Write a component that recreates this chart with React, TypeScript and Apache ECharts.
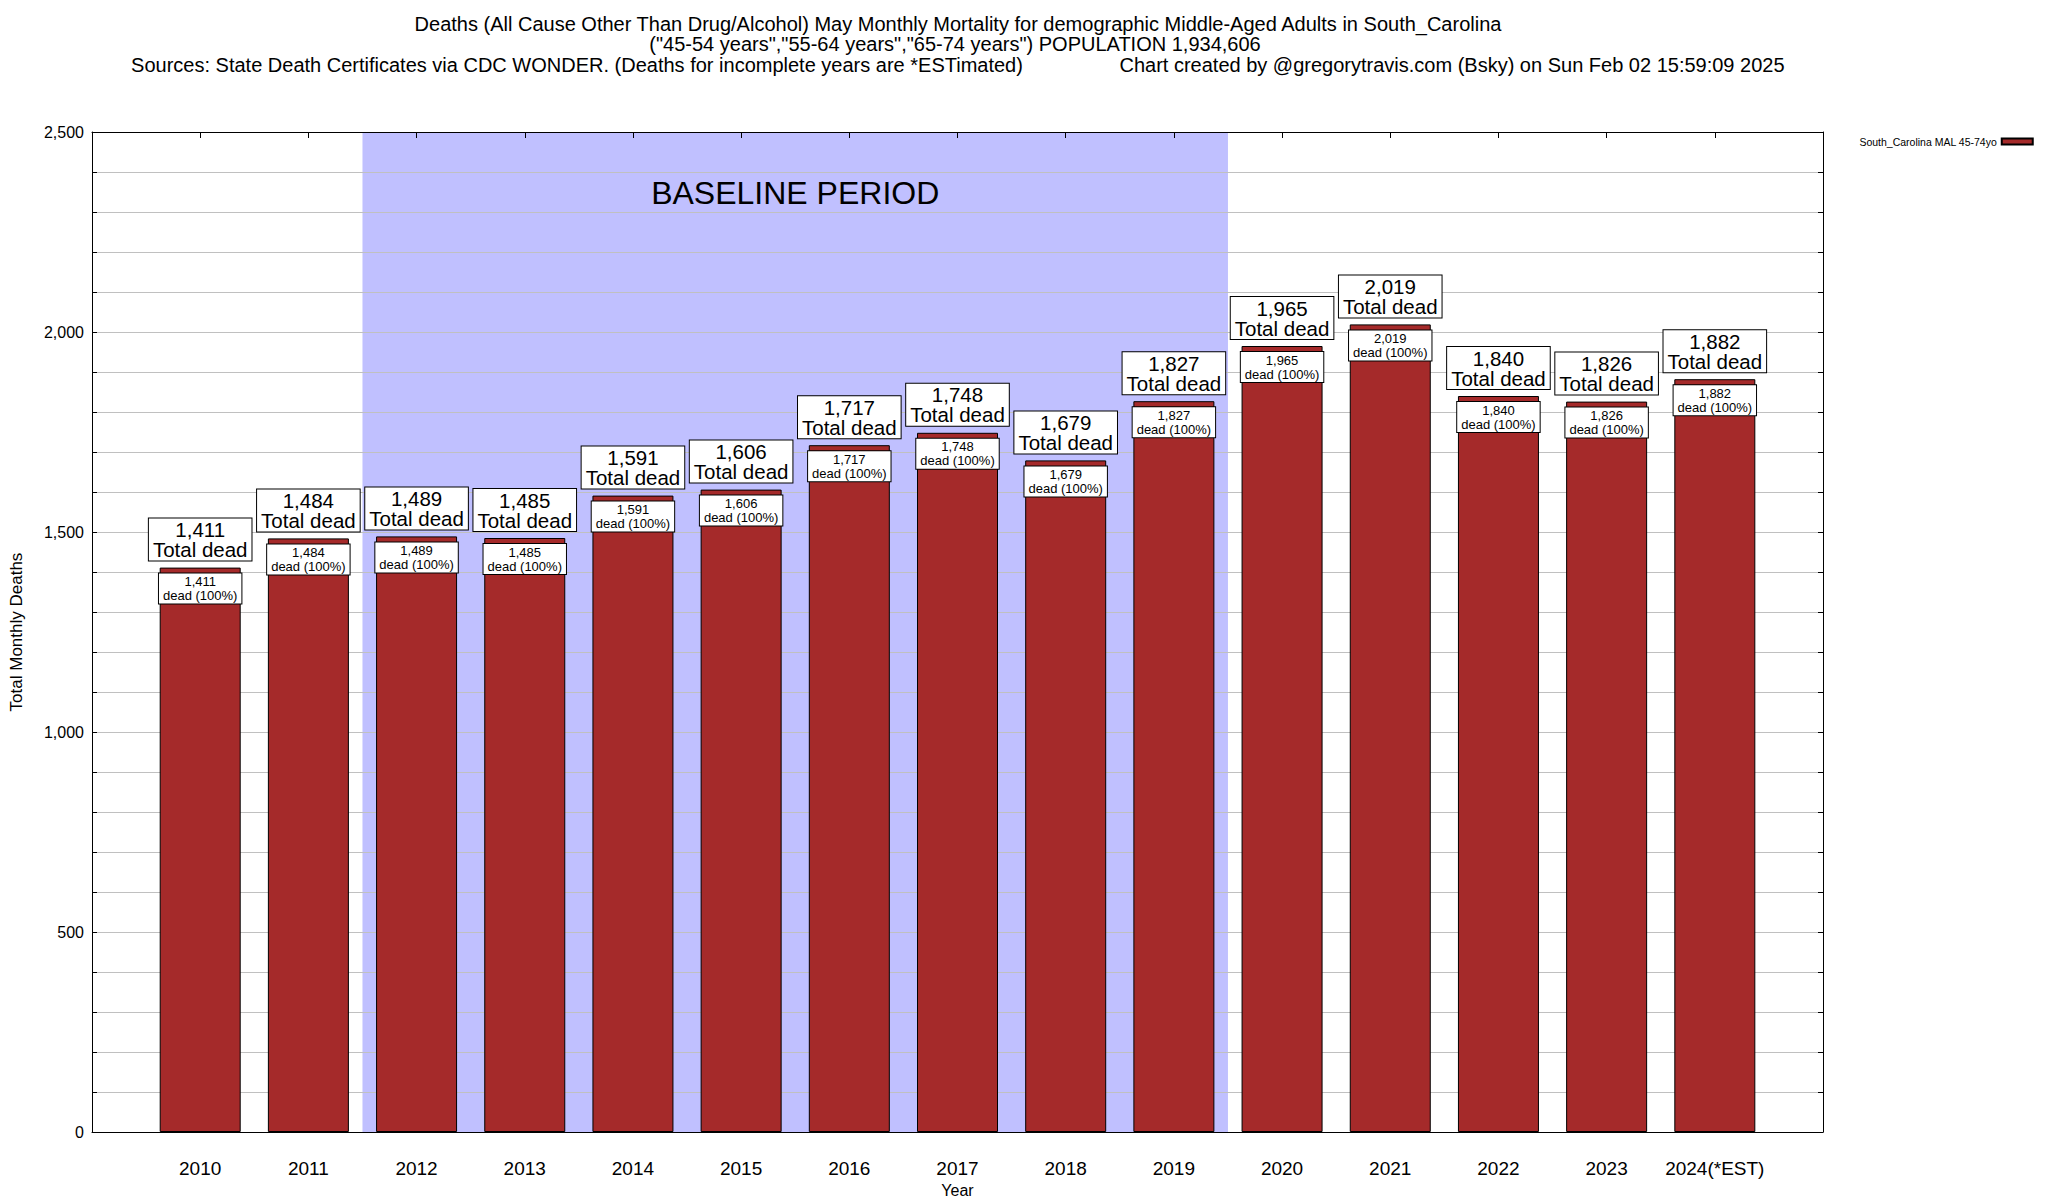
import React, { useEffect, useRef } from 'react';
import * as echarts from 'echarts';

const years = [2010, 2011, 2012, 2013, 2014, 2015, 2016, 2017, 2018, 2019, 2020, 2021, 2022, 2023, 2024];
const yearLabels = ['2010', '2011', '2012', '2013', '2014', '2015', '2016', '2017', '2018', '2019', '2020', '2021', '2022', '2023', '2024(*EST)'];
const deaths = [1411, 1484, 1489, 1485, 1591, 1606, 1717, 1748, 1679, 1827, 1965, 2019, 1840, 1826, 1882];
const seriesName = 'South_Carolina MAL 45-74yo';
const titleLine1 = 'Deaths (All Cause Other Than Drug/Alcohol) May Monthly Mortality for demographic Middle-Aged Adults in South_Carolina';
const titleLine2 = '("45-54 years","55-64 years","65-74 years") POPULATION 1,934,606';
const titleLine3a = 'Sources: State Death Certificates via CDC WONDER. (Deaths for incomplete years are *ESTimated)';
const titleLine3b = 'Chart created by @gregorytravis.com (Bsky) on Sun Feb 02 15:59:09 2025';
const baselineRange = [2011.5, 2019.5];
const baselineText = 'BASELINE PERIOD';
const xRange = [2009, 2025];
const yRange = [0, 2500];

const FONT = '"Liberation Sans", Arial, Helvetica, sans-serif';
const fmt = (v: number) => v.toLocaleString('en-US');

export default function App() {
  const ref = useRef<HTMLDivElement>(null);
  useEffect(() => {
    if (!ref.current) return;
    const chart = echarts.init(ref.current, undefined, { renderer: 'svg' });
    const data = years.map((y, i) => [y, deaths[i]]);
    const labelFor = (v: number) => {
      const i = years.indexOf(Math.round(v));
      return i >= 0 && Math.abs(v - years[i]) < 1e-6 ? yearLabels[i] : '';
    };
    const titleText = (text: string, x: number, y: number) => ({
      type: 'text',
      x,
      y,
      silent: true,
      style: {
        text,
        fontSize: 20,
        fontFamily: FONT,
        fill: '#000',
        textAlign: 'center',
        textVerticalAlign: 'middle',
        align: 'center',
        verticalAlign: 'middle',
      },
    });
    const option: any = {
      animation: false,
      backgroundColor: '#fff',
      textStyle: { fontFamily: FONT, color: '#000' },
      graphic: [
        titleText(titleLine1, 958, 24),
        titleText(titleLine2, 955, 44),
        titleText(titleLine3a, 577, 65),
        titleText(titleLine3b, 1452, 65),
      ],
      legend: {
        data: [seriesName],
        left: 1854,
        top: 131,
        align: 'right',
        icon: 'rect',
        itemWidth: 31,
        itemHeight: 6,
        itemGap: 4,
        textStyle: { fontSize: 10.5, color: '#000', fontFamily: FONT },
        selectedMode: false,
      },
      grid: { left: 92, right: 225, top: 132, bottom: 68, containLabel: false, outerBoundsMode: 'none' },
      xAxis: [
        {
          type: 'value',
          min: xRange[0],
          max: xRange[1],
          interval: 1,
          position: 'bottom',
          z: 3,
          name: 'Year',
          nameLocation: 'middle',
          nameGap: 49,
          nameTextStyle: { fontSize: 16, color: '#000', fontFamily: FONT },
          axisLine: { show: true, onZero: false, lineStyle: { color: '#000', width: 1 } },
          axisTick: { show: false },
          splitLine: { show: false },
          axisLabel: {
            margin: 27,
            fontSize: 19,
            color: '#000',
            fontFamily: FONT,
            formatter: (v: number) => labelFor(v),
          },
        },
        {
          type: 'value',
          min: xRange[0],
          max: xRange[1],
          interval: 1,
          position: 'top',
          z: 3,
          axisLine: { show: true, onZero: false, lineStyle: { color: '#000', width: 1 } },
          axisTick: { show: true, inside: true, length: 6, lineStyle: { color: '#000' } },
          splitLine: { show: false },
          axisLabel: { show: false },
        },
      ],
      yAxis: [
        {
          type: 'value',
          min: yRange[0],
          max: yRange[1],
          interval: 100,
          z: 1.5,
          name: 'Total Monthly Deaths',
          nameLocation: 'middle',
          nameRotate: 90,
          nameGap: 67,
          nameTextStyle: { fontSize: 17, color: '#000', fontFamily: FONT },
          axisLine: { show: true, lineStyle: { color: '#000', width: 1 } },
          axisTick: { show: true, inside: true, length: 5, lineStyle: { color: '#000' } },
          splitLine: { show: true, lineStyle: { color: '#c0c0c0', width: 1 } },
          axisLabel: {
            margin: 8,
            fontSize: 16,
            color: '#000',
            fontFamily: FONT,
            formatter: (v: number) => (v % 500 === 0 ? fmt(v) : ''),
          },
        },
        {
          type: 'value',
          min: yRange[0],
          max: yRange[1],
          interval: 100,
          position: 'right',
          z: 3,
          axisLine: { show: true, lineStyle: { color: '#000', width: 1 } },
          axisTick: { show: true, inside: true, length: 5, lineStyle: { color: '#000' } },
          splitLine: { show: false },
          axisLabel: { show: false },
        },
      ],
      series: [
        {
          name: 'baseline',
          type: 'line',
          data: [],
          z: 1,
          silent: true,
          markArea: {
            silent: true,
            itemStyle: { color: '#c0c0ff' },
            label: {
              show: true,
              position: 'insideTop',
              distance: 45,
              fontSize: 32,
              color: '#000',
              fontFamily: FONT,
            },
            data: [[{ xAxis: baselineRange[0], name: baselineText }, { xAxis: baselineRange[1] }]],
          },
        },
        {
          name: seriesName,
          type: 'bar',
          data,
          z: 2,
          barWidth: 81,
          silent: true,
          itemStyle: { color: '#a52a2a', borderColor: '#000', borderWidth: 1 },
          label: {
            show: true,
            position: 'top',
            distance: 7,
            fontSize: 20.5,
            lineHeight: 20,
            color: '#000',
            fontFamily: FONT,
            align: 'center',
            backgroundColor: '#fff',
            borderColor: '#000',
            borderWidth: 1,
            padding: [1, 4, 1, 4],
            formatter: (p: any) => `${fmt(p.value[1])}\nTotal dead`,
          },
        },
        {
          name: 'inner',
          type: 'bar',
          data,
          z: 2,
          barWidth: 81,
          barGap: '-100%',
          silent: true,
          itemStyle: { color: 'rgba(0,0,0,0)', borderWidth: 0 },
          label: {
            show: true,
            position: 'insideTop',
            distance: 6,
            fontSize: 13,
            lineHeight: 14,
            color: '#000',
            fontFamily: FONT,
            align: 'center',
            backgroundColor: '#fff',
            borderColor: '#000',
            borderWidth: 1,
            padding: [1, 4, 1, 4],
            formatter: (p: any) => `${fmt(p.value[1])}\ndead (100%)`,
          },
        },
      ],
    };
    chart.setOption(option);
    return () => chart.dispose();
  }, []);
  return (
    <div
      ref={ref}
      style={{ position: 'absolute', left: 0, top: 0, width: 2048, height: 1200, background: '#fff' }}
    />
  );
}
